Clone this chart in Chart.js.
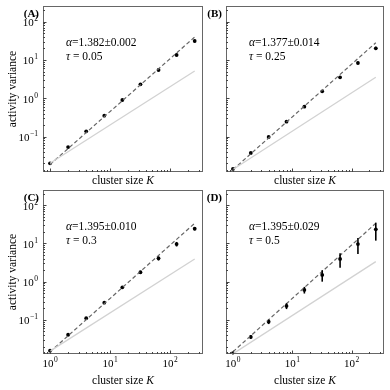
<!DOCTYPE html>
<html>
<head>
<meta charset="utf-8">
<script src="https://cdn.jsdelivr.net/npm/chart.js@4.4.1/dist/chart.umd.min.js"></script>
<style>
  html, body { margin: 0; padding: 0; background: #fff; }
  #wrap { position: relative; width: 390px; height: 390px; }
  #wrap canvas { position: absolute; left: 0; top: 0; }
</style>
</head>
<body>
<div id="wrap">
  <canvas id="pA" width="390" height="390"></canvas>
  <canvas id="pB" width="390" height="390"></canvas>
  <canvas id="pC" width="390" height="390"></canvas>
  <canvas id="pD" width="390" height="390"></canvas>
</div>
<script>
// ─── DATA ───────────────────────────────────────────
const clusterK = [1, 2, 4, 8, 16, 32, 64, 128, 256];

const varA = [0.0201, 0.0534, 0.137, 0.351, 0.903, 2.32, 5.48, 13.5, 31.3];
const varB = [0.0143, 0.0373, 0.0977, 0.245, 0.604, 1.52, 3.53, 8.35, 20.2];
const varC = [0.0158, 0.041, 0.111, 0.283, 0.71, 1.76, 4.07, 9.6, 24.2];
const varD = [0.0135, 0.036, 0.090, 0.232, 0.61, 1.50, 3.92, 9.6, 23.3];

const errA = [0.0002, 0.0005, 0.001, 0.003, 0.01, 0.03, 0.1, 0.5, 2.5];
const errB = [0.0003, 0.001, 0.002, 0.005, 0.015, 0.05, 0.15, 0.6, 2.0];
const errC = [0.0004, 0.001, 0.003, 0.008, 0.03, 0.15, 0.5, 1.3, 2.5];
const errD = [0.001, 0.004, 0.012, 0.04, 0.12, 0.5, 1.6, 4.3, 11.5];

// fitted power law (dashed) and slope-1 reference (grey), values at K = 1 and K = 256
const lineK = [1, 256];
const fitA = [0.0187, 39.8];
const fitB = [0.0137, 28.3];
const fitC = [0.0147, 33.5];
const fitD = [0.0147, 33.5];
const refA = [0.0202, 5.16];
const refB = [0.0138, 3.53];
const refC = [0.0153, 3.92];
const refD = [0.0130, 3.33];

const alphaText = ['1.382±0.002', '1.377±0.014', '1.395±0.010', '1.395±0.029'];
const tauText = ['0.05', '0.25', '0.3', '0.5'];
const panelLetters = ['(A)', '(B)', '(C)', '(D)'];

const xMajor = [1, 10, 100];
const yMajor = [0.1, 1, 10, 100];

const SERIF = '"Liberation Serif", "DejaVu Serif", serif';

// ─── DECORATION PLUGIN ──────────────────────────────
function drawPow(ctx, x, y, exp, align) {
  // "10" with a raised exponent, y = baseline of "10"
  ctx.font = '11px ' + SERIF;
  const wb = ctx.measureText('10').width;
  ctx.font = '7.5px ' + SERIF;
  const we = ctx.measureText(exp).width;
  const w = wb + we + 0.5;
  let x0 = x;
  if (align === 'right') x0 = x - w;
  if (align === 'center') x0 = x - w / 2;
  ctx.textAlign = 'left';
  ctx.textBaseline = 'alphabetic';
  ctx.font = '11px ' + SERIF;
  ctx.fillText('10', x0, y);
  ctx.font = '7.5px ' + SERIF;
  ctx.fillText(exp, x0 + wb + 0.5, y - 5);
}

const panelDeco = {
  id: 'panelDeco',
  afterDraw(chart, args, o) {
    const ctx = chart.ctx, a = chart.chartArea;
    const xs = chart.scales.x, ys = chart.scales.y;
    ctx.save();

    // error bars
    ctx.strokeStyle = '#000';
    ctx.lineWidth = 1.6;
    o.vals.forEach((v, i) => {
      const e = o.errs[i];
      const px = xs.getPixelForValue(clusterK[i]);
      const p1 = ys.getPixelForValue(v - e), p2 = ys.getPixelForValue(v + e);
      if (Math.abs(p1 - p2) < 1) return;
      ctx.beginPath();
      ctx.moveTo(px, p1);
      ctx.lineTo(px, p2);
      ctx.stroke();
    });

    // frame
    ctx.strokeStyle = '#666';
    ctx.lineWidth = 1;
    ctx.strokeRect(a.left + 0.5, a.top + 0.5, a.right - a.left - 1, a.bottom - a.top - 1);

    // inward ticks (log decades + minor)
    ctx.strokeStyle = '#444';
    for (let d = -3; d <= 3; d++) {
      for (let m = 1; m <= 9; m++) {
        const v = m * Math.pow(10, d);
        const len = m === 1 ? 3.5 : 2;
        if (v >= xs.min && v <= xs.max) {
          const px = Math.round(xs.getPixelForValue(v)) + 0.5;
          ctx.beginPath();
          ctx.moveTo(px, a.bottom);
          ctx.lineTo(px, a.bottom - len);
          ctx.stroke();
        }
        if (v >= ys.min && v <= ys.max) {
          const py = Math.round(ys.getPixelForValue(v)) + 0.5;
          ctx.beginPath();
          ctx.moveTo(a.left, py);
          ctx.lineTo(a.left + len, py);
          ctx.stroke();
        }
      }
    }

    ctx.fillStyle = '#000';
    // tick labels
    if (o.yLabels) {
      yMajor.forEach(v => {
        const py = ys.getPixelForValue(v);
        const exp = String(Math.round(Math.log10(v))).replace('-', '\u2212');
        drawPow(ctx, a.left - 5, py + 4.5, exp, 'right');
      });
    }
    if (o.xLabels) {
      xMajor.forEach(v => {
        const px = xs.getPixelForValue(v);
        drawPow(ctx, px, a.bottom + 13, String(Math.round(Math.log10(v))), 'center');
      });
    }

    // x title with italic K
    ctx.textBaseline = 'alphabetic';
    ctx.textAlign = 'left';
    ctx.font = '11.5px ' + SERIF;
    const t1 = 'cluster size ';
    const w1 = ctx.measureText(t1).width;
    ctx.font = 'italic 11.5px ' + SERIF;
    const w2 = ctx.measureText('K').width;
    const cx = (a.left + a.right) / 2 - (w1 + w2) / 2;
    const ty = a.bottom + (o.xLabels ? 30 : 12);
    ctx.font = '11.5px ' + SERIF;
    ctx.fillText(t1, cx, ty);
    ctx.font = 'italic 11.5px ' + SERIF;
    ctx.fillText('K', cx + w1, ty);

    // y title
    if (o.yLabels) {
      ctx.save();
      ctx.translate(16, (a.top + a.bottom) / 2);
      ctx.rotate(-Math.PI / 2);
      ctx.textAlign = 'center';
      ctx.font = '11.5px ' + SERIF;
      ctx.fillText('activity variance', 0, 0);
      ctx.restore();
    }

    // panel letter
    ctx.textAlign = 'right';
    ctx.font = 'bold 11px ' + SERIF;
    ctx.fillText(o.letter, a.left - 4, a.top + 11);

    // annotations
    ctx.textAlign = 'left';
    const ax = a.left + 23;
    ctx.font = 'italic 11.5px ' + SERIF;
    ctx.fillText('\u03b1', ax, a.top + 40);
    const wa = ctx.measureText('\u03b1').width;
    ctx.font = '11.5px ' + SERIF;
    ctx.fillText('=' + o.alpha, ax + wa, a.top + 40);
    ctx.font = 'italic 11.5px ' + SERIF;
    ctx.fillText('\u03c4', ax, a.top + 54);
    const wt = ctx.measureText('\u03c4').width;
    ctx.font = '11.5px ' + SERIF;
    ctx.fillText(' = ' + o.tau, ax + wt, a.top + 54);

    ctx.restore();
  }
};

// ─── PANELS ─────────────────────────────────────────
function pts(xsArr, ysArr) {
  return xsArr.map((x, i) => ({ x, y: ysArr[i] }));
}

function makePanel(id, area, yMin, yMax, vals, errs, fit, ref, idx, xLabels, yLabels) {
  const canvas = document.getElementById(id);
  return new Chart(canvas, {
    type: 'scatter',
    data: {
      datasets: [
        { data: pts(lineK, ref), showLine: true, borderColor: '#d2d2d2', borderWidth: 1.3, pointRadius: 0 },
        { data: pts(lineK, fit), showLine: true, borderColor: '#666', borderWidth: 1.2, borderDash: [4, 2.5], pointRadius: 0 },
        { data: pts(clusterK, vals), showLine: false, pointRadius: 1.9, pointBackgroundColor: '#000', pointBorderWidth: 0 }
      ]
    },
    options: {
      responsive: false,
      animation: false,
      layout: { padding: { left: area[0], top: area[1], right: 390 - area[2], bottom: 390 - area[3] } },
      scales: {
        x: { type: 'logarithmic', min: 0.764, max: 352, display: false },
        y: { type: 'logarithmic', min: yMin, max: yMax, display: false }
      },
      plugins: {
        legend: { display: false },
        tooltip: { enabled: false },
        panelDeco: {
          vals, errs, xLabels, yLabels,
          letter: panelLetters[idx], alpha: alphaText[idx], tau: tauText[idx]
        }
      }
    },
    plugins: [panelDeco]
  });
}

makePanel('pA', [43, 6, 203, 172], 0.0119, 257, varA, errA, fitA, refA, 0, false, true);
makePanel('pB', [226, 6, 384, 172], 0.0119, 257, varB, errB, fitB, refB, 1, false, false);
makePanel('pC', [43, 190, 203, 354], 0.0129, 248, varC, errC, fitC, refC, 2, true, true);
makePanel('pD', [226, 190, 384, 354], 0.0129, 248, varD, errD, fitD, refD, 3, true, false);
</script>
</body>
</html>
